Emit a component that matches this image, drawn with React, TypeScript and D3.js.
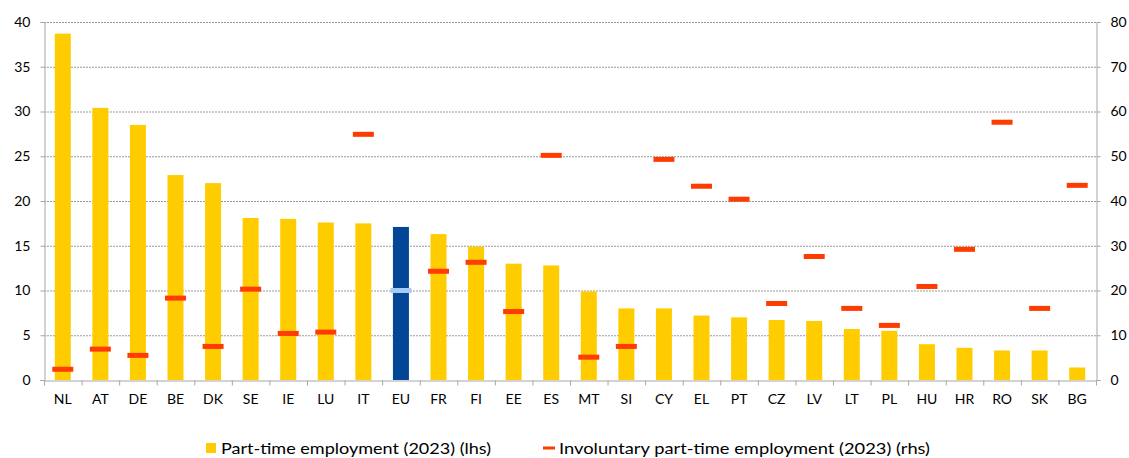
import React, { useEffect, useRef } from 'react';
import * as d3 from 'd3';

const countries = ['NL', 'AT', 'DE', 'BE', 'DK', 'SE', 'IE', 'LU', 'IT', 'EU', 'FR', 'FI', 'EE', 'ES', 'MT', 'SI', 'CY', 'EL', 'PT', 'CZ', 'LV', 'LT', 'PL', 'HU', 'HR', 'RO', 'SK', 'BG'];
const partTime = [38.7, 30.4, 28.5, 22.9, 22.0, 18.1, 18.0, 17.6, 17.5, 17.1, 16.3, 14.9, 13.0, 12.8, 9.9, 8.0, 8.0, 7.2, 7.0, 6.7, 6.6, 5.7, 5.5, 4.0, 3.6, 3.3, 3.3, 1.4];
const involuntary = [2.4, 6.9, 5.5, 18.3, 7.5, 20.3, 10.4, 10.7, 54.9, 20.0, 24.3, 26.3, 15.3, 50.2, 5.1, 7.5, 49.3, 43.3, 40.4, 17.1, 27.6, 16.0, 12.2, 20.9, 29.2, 57.6, 16.0, 43.5];
const leftTicks = [0, 5, 10, 15, 20, 25, 30, 35, 40];
const rightTicks = [0, 10, 20, 30, 40, 50, 60, 70, 80];
const legendLabels = ['Part-time employment (2023) (lhs)', 'Involuntary part-time employment (2023) (rhs)'];

export default function App() {
  const svgRef = useRef<SVGSVGElement>(null);

  useEffect(() => {
    const W = 1129, H = 458;
    const margin = { top: 22, right: 33, bottom: 78, left: 44 };
    const width = W - margin.left - margin.right;
    const height = H - margin.top - margin.bottom;
    const font = 'Lato, "Open Sans", sans-serif';
    const axisColor = '#a6a6a6';

    const svg = d3.select(svgRef.current);
    svg.selectAll('*').remove();
    const g = svg.append('g').attr('transform', `translate(${margin.left},${margin.top})`);

    const x = d3.scaleBand().domain(countries).range([0, width]).paddingInner(0).paddingOuter(0);
    const yL = d3.scaleLinear().domain([0, 40]).range([height, 0]);
    const yR = d3.scaleLinear().domain([0, 80]).range([height, 0]);
    const barW = 16;
    const markW = 21;

    // gridlines
    g.append('g').selectAll('line')
      .data(leftTicks.filter(d => d > 0))
      .enter().append('line')
      .attr('x1', 0).attr('x2', width)
      .attr('y1', d => yL(d) + 0.5).attr('y2', d => yL(d) + 0.5)
      .attr('stroke', '#9a9a9a')
      .attr('stroke-width', 1)
      .attr('stroke-dasharray', '2,1');

    // bars
    g.selectAll('.bar')
      .data(countries)
      .enter().append('rect')
      .attr('class', 'bar')
      .attr('x', d => (x(d) || 0) + x.bandwidth() / 2 - barW / 2)
      .attr('width', barW)
      .attr('y', (d, i) => yL(partTime[i]))
      .attr('height', (d, i) => height - yL(partTime[i]))
      .attr('fill', d => d === 'EU' ? '#024695' : '#ffcc00');

    // involuntary markers
    g.selectAll('.mark')
      .data(countries)
      .enter().append('rect')
      .attr('class', 'mark')
      .attr('x', d => (x(d) || 0) + x.bandwidth() / 2 - markW / 2)
      .attr('width', markW)
      .attr('y', (d, i) => yR(involuntary[i]) - 2.5)
      .attr('height', 5)
      .attr('fill', d => d === 'EU' ? '#a4cbf4' : '#ff3c00');

    // left axis
    const left = g.append('g').attr('transform', 'translate(0.5,0)')
      .call(d3.axisLeft(yL).tickValues(leftTicks).tickSize(4).tickPadding(10));
    // right axis
    const right = g.append('g').attr('transform', `translate(${width + 0.5},0)`)
      .call(d3.axisRight(yR).tickValues(rightTicks).tickSize(4).tickPadding(10));
    // bottom axis with ticks at band edges
    const bottom = g.append('g').attr('transform', `translate(0,${height + 0.5})`)
      .call(d3.axisBottom(x).tickSize(0).tickPadding(14));
    bottom.selectAll('.tick-edge')
      .data(d3.range(countries.length + 1))
      .enter().append('line')
      .attr('x1', i => i * x.step() + 0.5).attr('x2', i => i * x.step() + 0.5)
      .attr('y1', 0).attr('y2', 5)
      .attr('stroke', axisColor);

    [left, right, bottom].forEach(a => {
      a.select('.domain').attr('stroke', axisColor);
      a.selectAll('.tick line').attr('stroke', axisColor);
      a.selectAll('text')
        .style('font-family', font)
        .style('font-size', '14px')
        .attr('fill', '#000');
    });

    // legend
    const lg = svg.append('g').attr('transform', 'translate(0,448)');
    lg.append('rect').attr('x', 206).attr('y', -5).attr('width', 10).attr('height', 10).attr('fill', '#ffcc00');
    lg.append('text').attr('x', 221).attr('y', 6)
      .attr('textLength', 270).attr('lengthAdjust', 'spacingAndGlyphs')
      .style('font-family', font).style('font-size', '16px').text(legendLabels[0]);
    lg.append('rect').attr('x', 543).attr('y', -1.5).attr('width', 12).attr('height', 3).attr('fill', '#ff3c00');
    lg.append('text').attr('x', 559).attr('y', 6)
      .attr('textLength', 371).attr('lengthAdjust', 'spacingAndGlyphs')
      .style('font-family', font).style('font-size', '16px').text(legendLabels[1]);
  }, []);

  return (
    <div style={{ position: 'absolute', left: 0, top: 0, background: '#fff' }}>
      <svg ref={svgRef} width={1129} height={458} viewBox="0 0 1129 458" style={{ display: 'block' }}></svg>
    </div>
  );
}
